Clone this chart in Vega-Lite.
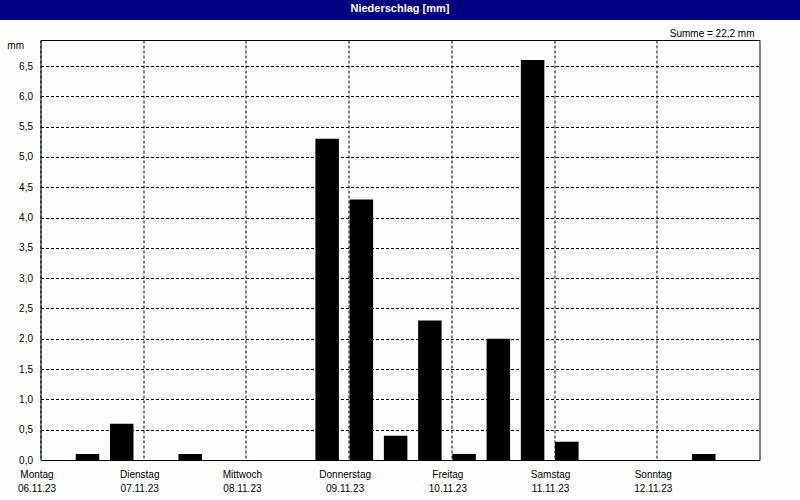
{
  "$schema": "https://vega.github.io/schema/vega-lite/v6.json",
  "background": "#fcfefc",
  "padding": 0,
  "spacing": 20,
  "bounds": "flush",
  "center": true,
  "config": {
    "font": "Liberation Sans",
    "view": {"stroke": "#000000"}
  },
  "vconcat": [
    {
      "width": 800,
      "height": 20,
      "view": {"fill": "#000080", "stroke": null},
      "data": {"values": [{"label": "Niederschlag [mm]"}]},
      "mark": {"type": "text", "color": "#ffffff", "font": "Liberation Sans", "fontSize": 11, "fontWeight": "bold", "baseline": "middle", "align": "center", "dy": -1},
      "encoding": {"text": {"field": "label", "type": "nominal"}}
    },
    {
      "width": 719,
      "height": 420,
      "view": {"fill": "#fcfefc", "stroke": "#000000", "strokeWidth": 1},
      "title": {"text": "Summe = 22,2 mm", "anchor": "end", "orient": "top", "frame": "group", "fontSize": 10, "fontWeight": "normal", "font": "Liberation Sans", "color": "#000000", "baseline": "alphabetic", "offset": -6.5, "dx": -5},
      "data": {"values": [
        {"zeit": "2023-11-06T00:00", "niederschlag": 0.0},
        {"zeit": "2023-11-06T08:00", "niederschlag": 0.1},
        {"zeit": "2023-11-06T16:00", "niederschlag": 0.6},
        {"zeit": "2023-11-07T00:00", "niederschlag": 0.0},
        {"zeit": "2023-11-07T08:00", "niederschlag": 0.1},
        {"zeit": "2023-11-07T16:00", "niederschlag": 0.0},
        {"zeit": "2023-11-08T00:00", "niederschlag": 0.0},
        {"zeit": "2023-11-08T08:00", "niederschlag": 0.0},
        {"zeit": "2023-11-08T16:00", "niederschlag": 5.3},
        {"zeit": "2023-11-09T00:00", "niederschlag": 4.3},
        {"zeit": "2023-11-09T08:00", "niederschlag": 0.4},
        {"zeit": "2023-11-09T16:00", "niederschlag": 2.3},
        {"zeit": "2023-11-10T00:00", "niederschlag": 0.1},
        {"zeit": "2023-11-10T08:00", "niederschlag": 2.0},
        {"zeit": "2023-11-10T16:00", "niederschlag": 6.6},
        {"zeit": "2023-11-11T00:00", "niederschlag": 0.3},
        {"zeit": "2023-11-11T08:00", "niederschlag": 0.0},
        {"zeit": "2023-11-11T16:00", "niederschlag": 0.0},
        {"zeit": "2023-11-12T00:00", "niederschlag": 0.0},
        {"zeit": "2023-11-12T08:00", "niederschlag": 0.1},
        {"zeit": "2023-11-12T16:00", "niederschlag": 0.0}
      ]},
      "mark": {"type": "bar", "color": "#000000", "width": 23.5, "xOffset": 12.75, "clip": true},
      "encoding": {
        "x": {
          "field": "zeit",
          "type": "temporal",
          "scale": {"domain": [{"year": 2023, "month": 11, "date": 6}, {"year": 2023, "month": 11, "date": 13}], "nice": false, "padding": 0},
          "axis": {
            "title": null,
            "values": [
              {"year": 2023, "month": 11, "date": 6},
              {"year": 2023, "month": 11, "date": 7},
              {"year": 2023, "month": 11, "date": 8},
              {"year": 2023, "month": 11, "date": 9},
              {"year": 2023, "month": 11, "date": 10},
              {"year": 2023, "month": 11, "date": 11},
              {"year": 2023, "month": 11, "date": 12}
            ],
            "labelExpr": "[['Sonntag','Montag','Dienstag','Mittwoch','Donnerstag','Freitag','Samstag'][day(datum.value)], timeFormat(datum.value, '%d.%m.%y')]",
            "labelFont": "Liberation Sans",
            "labelFontSize": 10,
            "labelColor": "#000000",
            "labelPadding": 9,
            "labelBaseline": "top",
            "labelLineHeight": 14,
            "labelAlign": "center",
            "labelOffset": -4,
            "labelFlush": false,
            "labelOverlap": false,
            "ticks": false,
            "domain": false,
            "grid": true,
            "gridColor": "#000000",
            "gridOpacity": 1,
            "gridWidth": 1,
            "gridDash": [3, 2]
          }
        },
        "y": {
          "field": "niederschlag",
          "type": "quantitative",
          "scale": {"domain": [0, 6.93], "nice": false, "zero": true, "padding": 0},
          "axis": {
            "title": "mm",
            "titleAngle": 0,
            "titleAlign": "right",
            "titleBaseline": "alphabetic",
            "titleX": -17,
            "titleY": 8.5,
            "titleFont": "Liberation Sans",
            "titleFontSize": 10,
            "titleFontWeight": "normal",
            "titleColor": "#000000",
            "values": [0, 0.5, 1, 1.5, 2, 2.5, 3, 3.5, 4, 4.5, 5, 5.5, 6, 6.5],
            "labelExpr": "replace(format(datum.value, '.1f'), '.', ',')",
            "labelFont": "Liberation Sans",
            "labelFontSize": 10,
            "labelColor": "#000000",
            "labelPadding": 8,
            "labelFlush": false,
            "labelOverlap": false,
            "ticks": false,
            "domain": false,
            "grid": true,
            "gridColor": "#000000",
            "gridOpacity": 1,
            "gridWidth": 1,
            "gridDash": [3, 2]
          }
        }
      }
    }
  ]
}
